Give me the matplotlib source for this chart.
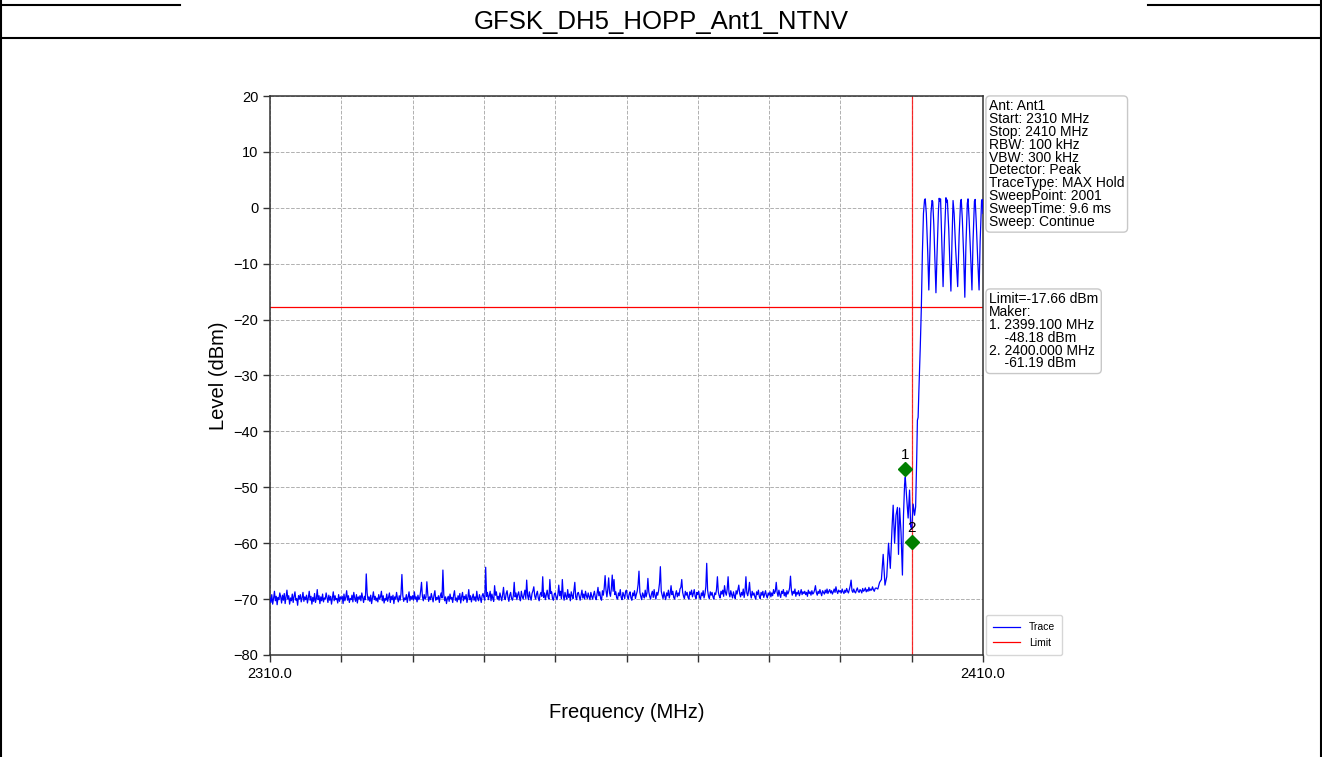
import numpy as np
import matplotlib
matplotlib.use("Agg")
import matplotlib.pyplot as plt
from matplotlib.lines import Line2D

plt.rcParams['font.family'] = ['Liberation Sans', 'DejaVu Sans']

# ---------------- data ----------------
title = "GFSK_DH5_HOPP_Ant1_NTNV"
start_mhz, noise_end_mhz, stop_mhz = 2310.0, 2395.0, 2410.0
noise_levels = [
    -69.8, -70.6, -69.2, -70.9, -69.9, -68.6, -70.3, -69.5, -71.0, -69.7,
    -70.1, -68.9, -69.6, -70.7, -69.3, -70.2, -69.0, -70.8, -69.6, -68.4,
    -70.0, -69.4, -70.9, -69.8, -70.3, -69.1, -70.6, -69.5, -68.7, -70.2,
    -69.9, -71.1, -69.4, -70.0, -69.2, -70.5, -69.8, -68.8, -70.4, -69.6,
    -70.1, -69.3, -70.7, -69.8, -68.6, -70.2, -69.5, -70.9, -69.7, -70.4,
    -69.0, -70.6, -69.9, -68.3, -70.1, -69.4, -70.8, -69.6, -70.3, -69.1,
    -70.5, -69.8, -70.0, -68.9, -69.7, -70.6, -69.3, -70.2, -69.5, -70.9,
    -69.8, -68.7, -70.3, -69.4, -70.1, -69.9, -70.7, -69.2, -70.4, -69.6,
    -70.0, -69.5, -70.8, -69.1, -70.3, -69.7, -68.5, -70.2, -69.4, -70.6,
    -69.9, -70.1, -69.3, -70.5, -68.8, -69.8, -70.4, -69.2, -70.7, -69.6,
    -70.0, -69.4, -70.3, -68.9, -69.8, -70.6, -69.5, -70.1, -65.5, -68.9,
    -70.2, -69.6, -70.4, -69.3, -70.8, -69.7, -68.7, -70.1, -69.5, -70.3,
    -69.8, -70.5, -69.2, -70.0, -69.6, -68.6, -70.3, -69.4, -70.7, -69.9,
    -70.2, -69.1, -70.4, -69.7, -68.9, -70.6, -69.5, -70.1, -69.3, -70.8,
    -69.6, -70.0, -68.8, -69.9, -70.5, -69.4, -70.2, -69.0, -65.6, -69.3,
    -70.4, -69.8, -70.1, -69.2, -70.6, -69.7, -68.7, -70.3, -69.5, -70.0,
    -69.4, -70.2, -68.7, -70.0, -69.6, -70.5, -69.3, -70.1, -69.8, -68.6,
    -67.0, -69.5, -70.3, -69.2, -70.0, -69.7, -66.9, -69.1, -70.4, -69.6,
    -70.1, -69.0, -69.8, -70.5, -69.3, -68.5, -70.2, -69.7, -70.0, -69.4,
    -70.6, -69.5, -68.9, -69.8, -64.8, -69.2, -70.3, -69.6, -70.8, -69.9,
    -69.5, -70.4, -69.1, -70.0, -69.7, -70.6, -69.3, -68.5, -70.2, -69.8,
    -70.5, -69.4, -70.1, -69.0, -70.7, -69.6, -68.8, -70.3, -69.5, -70.0,
    -69.2, -70.6, -69.8, -68.3, -70.1, -69.4, -70.5, -69.7, -69.1, -70.2,
    -69.6, -70.4, -68.6, -69.9, -70.3, -69.2, -69.8, -70.6, -69.4, -69.0,
    -69.7, -70.2, -64.3, -69.5, -68.8, -70.1, -69.4, -68.6, -70.3, -69.1,
    -69.9, -70.4, -67.6, -69.3, -68.7, -70.0, -69.5, -70.2, -68.9, -69.6,
    -70.3, -69.2, -67.9, -69.8, -70.1, -69.0, -68.5, -69.7, -70.4, -69.3,
    -68.8, -69.9, -70.2, -69.4, -67.0, -69.6, -68.9, -70.1, -69.2, -68.7,
    -69.8, -70.3, -68.6, -69.5, -70.0, -69.2, -68.4, -69.9, -66.6, -69.3,
    -70.1, -68.7, -69.6, -70.2, -69.0, -68.5, -67.8, -69.4, -70.0, -69.1,
    -68.6, -69.8, -70.3, -69.2, -68.8, -69.5, -66.0, -69.7, -68.9, -70.1,
    -69.3, -68.4, -69.6, -70.0, -66.5, -69.0, -68.7, -69.9, -70.2, -69.1,
    -68.9, -69.6, -70.1, -69.2, -67.5, -69.4, -68.6, -69.9, -66.5, -69.3,
    -70.2, -68.8, -69.5, -70.0, -68.3, -69.7, -69.1, -70.3, -68.7, -69.4,
    -69.9, -68.5, -67.0, -69.6, -70.1, -69.0, -68.8, -69.5, -70.2, -69.3,
    -68.4, -69.8, -69.1, -70.0, -68.6, -69.4, -69.9, -68.9, -69.6, -70.1,
    -68.8, -69.5, -70.0, -69.2, -68.6, -69.7, -70.1, -69.0, -67.9, -69.4,
    -68.7, -69.9, -70.2, -68.5, -69.3, -68.0, -65.8, -68.4, -69.6, -68.2,
    -66.2, -68.9, -69.5, -68.1, -65.7, -68.6, -66.5, -69.2, -68.7, -69.8,
    -70.0, -68.9, -69.4, -68.3, -69.7, -70.1, -68.8, -69.3, -69.9, -68.6,
    -68.4, -69.6, -70.0, -69.1, -68.7, -69.8, -70.2, -68.9, -69.4, -68.5,
    -69.9, -69.2, -68.6, -67.4, -65.0, -68.8, -69.5, -70.1, -68.9, -69.3,
    -69.8, -68.4, -69.6, -68.9, -66.3, -68.7, -69.5, -70.0, -69.1, -68.6,
    -69.7, -68.3, -69.4, -70.0, -68.8, -69.3, -68.5, -67.2, -64.2, -68.6,
    -69.3, -69.9, -68.7, -69.5, -70.1, -68.9, -69.4, -68.4, -69.8, -69.0,
    -67.6, -69.2, -68.6, -69.7, -70.0, -69.1, -68.5, -69.6, -68.9, -69.4,
    -68.2, -67.9, -66.5, -68.8, -69.5, -69.9, -68.6, -69.3, -68.8, -69.7,
    -70.0, -68.7, -69.2, -68.4, -69.6, -69.0, -68.3, -69.5, -69.9, -68.8,
    -69.2, -68.6, -69.7, -70.0, -68.9, -69.4, -68.5, -69.8, -69.1, -67.8,
    -63.6, -68.4, -69.5, -69.9, -68.7, -69.3, -68.8, -69.6, -70.0, -68.9,
    -69.2, -68.3, -66.0, -68.7, -69.4, -69.8, -68.6, -69.1, -68.4, -69.5,
    -67.6, -68.8, -69.3, -68.2, -66.0, -68.9, -69.6, -68.5, -69.2, -69.8,
    -68.7, -69.4, -69.9, -68.5, -69.1, -68.3, -67.5, -69.0, -69.6, -68.8,
    -69.3, -68.2, -69.7, -68.6, -66.0, -68.9, -69.4, -68.5, -67.0, -69.1,
    -69.8, -68.6, -69.3, -68.9, -69.6, -70.0, -68.7, -69.2, -68.4, -69.5,
    -69.9, -68.8, -69.3, -68.6, -69.7, -69.1, -68.5, -69.4, -69.8, -68.9,
    -69.3, -68.7, -69.6, -68.9, -69.4, -68.3, -69.0, -68.6, -67.0, -68.8,
    -69.5, -68.4, -69.2, -69.7, -68.6, -69.0, -68.3, -69.4, -68.8, -69.6,
    -68.5, -69.1, -68.7, -68.0, -65.9, -68.4, -69.3, -68.6, -69.0, -68.2,
    -69.5, -68.8, -69.1, -68.5, -69.4, -68.9, -68.3, -69.2, -68.7, -69.0,
    -68.6, -69.2, -68.8, -69.5, -68.4, -69.0, -68.7, -69.3, -68.5, -69.1,
    -68.9, -68.4, -67.6, -68.8, -69.3, -68.6, -69.0, -68.3, -68.9, -69.4,
    -68.5, -68.8, -69.1, -68.4, -68.9, -68.2, -69.0, -68.6, -68.3, -68.9,
    -68.5, -69.1, -68.7, -68.2, -68.8, -67.8, -68.6, -69.0, -68.4, -68.7,
    -68.5, -68.9, -68.2, -68.7, -69.0, -68.4, -68.8, -68.1, -68.6, -68.9,
    -68.3, -67.6, -66.6, -68.5, -68.8, -68.2, -68.7, -68.9, -68.4, -68.0,
    -68.6, -68.8, -68.3, -68.5, -68.9, -68.1, -68.6, -68.4, -68.0, -68.7,
    -68.3, -68.6, -67.9, -68.5, -68.2, -68.4, -67.8, -68.3, -68.6, -68.1,
    -68.0,
]
tail_freq = [
    2395.25, 2395.5, 2395.75, 2396.0, 2396.25, 2396.5, 2396.75, 2397.0, 2397.25, 2397.4,
    2397.6, 2397.8, 2398.0, 2398.15, 2398.3, 2398.5, 2398.7, 2398.85, 2399.0, 2399.1,
    2399.3, 2399.5, 2399.7, 2399.85, 2400.0, 2400.2, 2400.4, 2400.55, 2400.7, 2400.8,
    2400.9, 2401.0, 2401.2, 2401.35, 2401.5, 2401.65, 2401.8, 2401.9, 2402.05, 2402.25,
    2402.4, 2402.55, 2402.7, 2402.85, 2402.95, 2403.1, 2403.25, 2403.4, 2403.55, 2403.75,
    2403.85, 2403.95, 2404.05, 2404.2, 2404.4, 2404.6, 2404.8, 2404.9, 2405.0, 2405.2,
    2405.35, 2405.5, 2405.65, 2405.8, 2405.95, 2406.15, 2406.45, 2406.65, 2406.85, 2406.95,
    2407.1, 2407.3, 2407.45, 2407.6, 2407.8, 2407.9, 2408.05, 2408.25, 2408.45, 2408.6,
    2408.8, 2408.9, 2409.05, 2409.25, 2409.45, 2409.6, 2409.8, 2409.9, 2410.0,
]
tail_level = [
    -68.2, -67.0, -66.5, -62.0, -67.5, -66.0, -60.0, -64.5, -57.0, -53.2,
    -60.0, -55.0, -53.6, -62.0, -53.7, -58.0, -65.7, -55.0, -49.5, -48.2,
    -52.0, -55.5, -50.5, -57.0, -57.5, -53.0, -55.0, -53.5, -45.0, -38.0,
    -37.5, -33.0, -25.0, -18.0, -8.0, -1.0, 1.4, 1.6, -1.0, -8.0,
    -14.7, -8.0, -1.0, 1.3, 1.1, -3.0, -9.0, -15.2, -8.5, -0.5,
    1.7, 1.2, 1.6, -5.0, -14.1, -5.0, 1.8, 1.0, 1.4, -4.0,
    -10.0, -14.9, -6.0, 1.3, -1.0, -7.0, -14.1, -5.0, 1.0, 1.5,
    -2.0, -9.0, -16.0, -7.0, 0.8, 1.6, -2.0, -8.0, -14.7, -6.0,
    1.2, 1.5, -2.5, -9.0, -14.7, -6.0, 1.3, 1.5, -1.0,
]
limit_dbm = -17.66
limit_freq = 2400.0
marker_freq = [2399.1, 2400.0]
marker_level = [-46.7, -59.8]
marker_names = ["1", "2"]
y_ticks = [-80, -70, -60, -50, -40, -30, -20, -10, 0, 10, 20]
x_ticks = [2310, 2320, 2330, 2340, 2350, 2360, 2370, 2380, 2390, 2400, 2410]
x_tick_labels = ["2310.0", "", "", "", "", "", "", "", "", "", "2410.0"]
info_lines = ["Ant: Ant1", "Start: 2310 MHz", "Stop: 2410 MHz", "RBW: 100 kHz",
              "VBW: 300 kHz", "Detector: Peak", "TraceType: MAX Hold",
              "SweepPoint: 2001", "SweepTime: 9.6 ms", "Sweep: Continue"]
limit_lines = ["Limit=-17.66 dBm", "Maker:", "1. 2399.100 MHz", "    -48.18 dBm",
               "2. 2400.000 MHz", "    -61.19 dBm"]

# ---------------- figure ----------------
W, H = 1322, 757
fig = plt.figure(figsize=(W / 100, H / 100), dpi=100)
fig.patch.set_facecolor("white")

def fx(px):
    return px / W

def fy(py):
    return 1 - py / H

# report frame lines
frame_kw = dict(color="black", lw=1.5, transform=fig.transFigure)
fig.add_artist(Line2D([fx(1), fx(1)], [0, 1], **frame_kw))
fig.add_artist(Line2D([fx(1320.5), fx(1320.5)], [0, 1], **frame_kw))
fig.add_artist(Line2D([0, 1], [fy(38), fy(38)], **frame_kw))
fig.add_artist(Line2D([0, fx(180)], [fy(5), fy(5)], **frame_kw))
fig.add_artist(Line2D([fx(1148), 1], [fy(5), fy(5)], **frame_kw))

fig.text(fx(661), fy(22), title, ha="center", va="center", fontsize=18.5)

ax = fig.add_axes([fx(270), fy(655), fx(983 - 270), (655 - 96) / H])

noise_freq = np.linspace(start_mhz, noise_end_mhz, len(noise_levels))
freq = np.concatenate([noise_freq, tail_freq])
level = np.concatenate([noise_levels, tail_level])

ax.plot(freq, level, color="blue", lw=0.9, label="Trace", zorder=3)
ax.axhline(limit_dbm, color="red", lw=0.9, label="Limit", zorder=2)
ax.axvline(limit_freq, color="red", lw=0.9, alpha=0.8, zorder=2)

ax.plot(marker_freq, marker_level, linestyle="none", marker="D", color="green",
        markersize=7, zorder=4)
for f, l, n in zip(marker_freq, marker_level, marker_names):
    ax.annotate(n, (f, l), xytext=(0, 5), textcoords="offset points",
                ha="center", va="bottom", fontsize=11)

ax.set_xlim(start_mhz, stop_mhz)
ax.set_ylim(-80, 20)
ax.set_xticks(x_ticks)
ax.set_xticklabels(x_tick_labels)
ax.set_yticks(y_ticks)
ax.tick_params(labelsize=10.5, length=5, width=1, color="#333333")
ax.grid(True, linestyle="--", color="#b0b0b0", lw=0.7)
for s in ax.spines.values():
    s.set_color("#333333")
    s.set_linewidth(1.1)

ax.set_xlabel("Frequency (MHz)", fontsize=14.5, labelpad=16)
ax.set_ylabel("Level (dBm)", fontsize=14.5, labelpad=4)

box = dict(boxstyle="round,pad=0.22,rounding_size=0.3", facecolor="white",
           edgecolor="#c8c8c8", lw=1)
fig.text(fx(989), fy(99), "\n".join(info_lines), ha="left", va="top",
         fontsize=10, linespacing=0.9, bbox=box)
fig.text(fx(989), fy(292), "\n".join(limit_lines), ha="left", va="top",
         fontsize=10, linespacing=0.9, bbox=box)

leg = ax.legend(loc="lower left", bbox_to_anchor=(fx(986), fy(655)),
                bbox_transform=fig.transFigure, fontsize=7.5, frameon=True,
                handlelength=2.6, borderpad=0.7, labelspacing=0.5, fancybox=True,
                borderaxespad=0)
leg.get_frame().set_edgecolor("#cccccc")

fig.savefig("out.png", dpi=100)
